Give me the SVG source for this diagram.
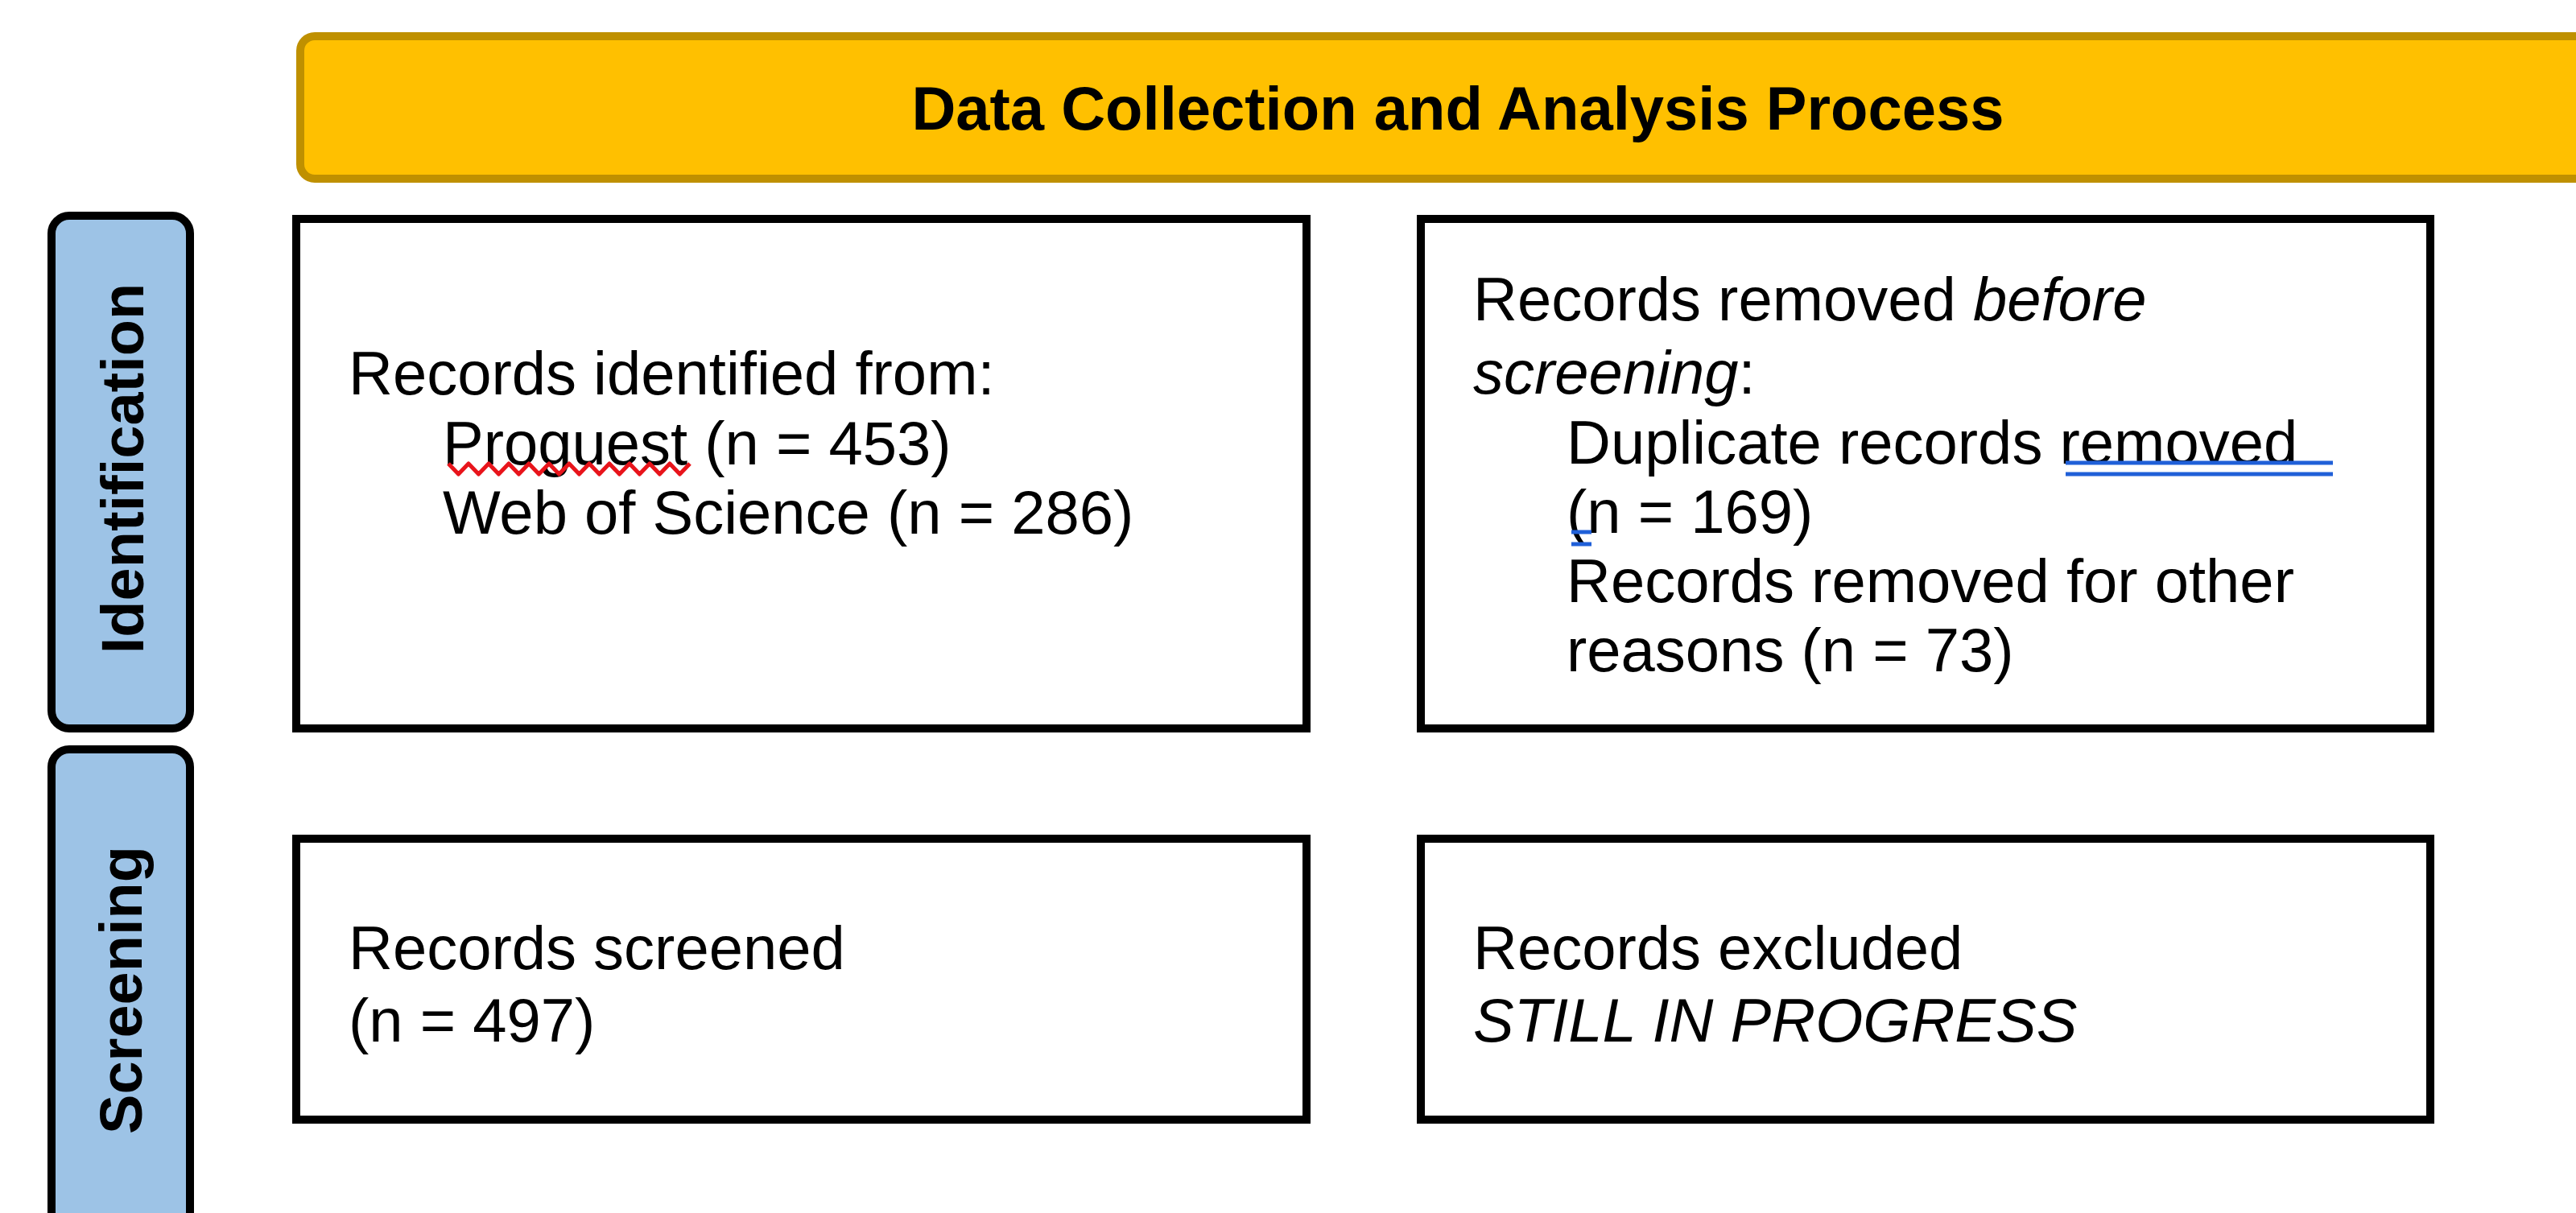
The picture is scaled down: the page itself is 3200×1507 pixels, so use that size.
<svg xmlns="http://www.w3.org/2000/svg" width="3200" height="1507" viewBox="0 0 3200 1507">
  <style>
    .body { font-family: "Liberation Sans", Arial, sans-serif; font-size: 76px; fill: #000; }
    .bold { font-family: "Liberation Sans", Arial, sans-serif; font-weight: bold; fill: #000; }
    .box { fill: #fff; stroke: #000; stroke-width: 10; }
    .tab { fill: #9DC3E6; stroke: #000; stroke-width: 10; }
    .it { font-style: italic; }
    .spell { fill: none; stroke: #E8141B; stroke-width: 5; stroke-linejoin: round; }
    .gram { fill: none; stroke: #2060D8; stroke-width: 5; }
  </style>
  <rect width="3200" height="1507" fill="#fff"/>

  <g id="header">
    <rect x="373" y="45" width="2900" height="177" rx="18" fill="#FFC000" stroke="#BF9000" stroke-width="10"/>
    <text class="bold" x="1811" y="161" font-size="76" text-anchor="middle">Data Collection and Analysis Process</text>
  </g>

  <g id="tab-identification">
    <rect class="tab" x="64" y="268" width="172" height="637" rx="22"/>
    <text class="bold" font-size="74" text-anchor="middle" transform="translate(178,582) rotate(-90)">Identification</text>
  </g>

  <g id="tab-screening">
    <rect class="tab" x="64" y="931" width="172" height="630" rx="22"/>
    <text class="bold" font-size="74" text-anchor="middle" transform="translate(176,1230) rotate(-90)">Screening</text>
  </g>

  <g id="records-identified">
    <rect class="box" x="368" y="272" width="1255" height="633"/>
    <text class="body" x="433" y="490">Records identified from:</text>
    <text class="body" x="550" y="577">Proguest (n = 453)</text>
    <text class="body" x="550" y="663">Web of Science (n = 286)</text>
    <path class="spell" d="M557 576 l12.5 13 l12.5 -13 l12.5 13 l12.5 -13 l12.5 13 l12.5 -13 l12.5 13 l12.5 -13 l12.5 13 l12.5 -13 l12.5 13 l12.5 -13 l12.5 13 l12.5 -13 l12.5 13 l12.5 -13 l12.5 13 l12.5 -13 l12.5 13 l12.5 -13 l12.5 13 l12.5 -13 l12.5 13 l12.5 -13"/>
  </g>

  <g id="records-removed">
    <rect class="box" x="1765" y="272" width="1254" height="633"/>
    <text class="body" x="1830" y="398">Records removed <tspan class="it">before</tspan></text>
    <text class="body" x="1830" y="489"><tspan class="it">screening</tspan>:</text>
    <text class="body" x="1946" y="576">Duplicate records removed</text>
    <text class="body" x="1946" y="662">(n = 169)</text>
    <text class="body" x="1946" y="748">Records removed for other</text>
    <text class="body" x="1946" y="834">reasons (n = 73)</text>
    <path class="gram" d="M2566 575 H2898 M2566 589 H2898 M1952 661 H1977 M1952 676 H1977"/>
  </g>

  <g id="records-screened">
    <rect class="box" x="368" y="1042" width="1255" height="349"/>
    <text class="body" x="433" y="1204">Records screened</text>
    <text class="body" x="433" y="1294">(n = 497)</text>
  </g>

  <g id="records-excluded">
    <rect class="box" x="1765" y="1042" width="1254" height="349"/>
    <text class="body" x="1830" y="1204">Records excluded</text>
    <text class="body it" x="1830" y="1294">STILL IN PROGRESS</text>
  </g>

  <g id="connectors"/>
</svg>
